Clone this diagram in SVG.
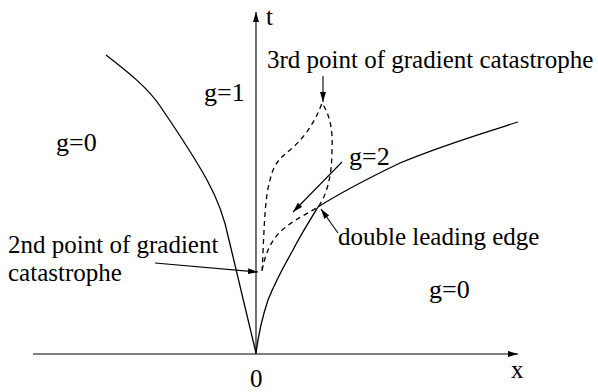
<svg xmlns="http://www.w3.org/2000/svg" width="598" height="392" viewBox="0 0 598 392">
<defs>
<marker id="ah" viewBox="0 0 10 6" refX="10" refY="3" markerWidth="10" markerHeight="6" markerUnits="userSpaceOnUse" orient="auto">
<path d="M0,0 L10,3 L0,6 Z" fill="#000"/>
</marker>
</defs>
<style>
.t{font-family:'Liberation Serif','DejaVu Serif',serif;font-size:25px;fill:#000}
.g{font-size:26px}
.c{fill:none;stroke:#000;stroke-width:1.3}
.d{fill:none;stroke:#000;stroke-width:1.3;stroke-dasharray:5,4}
.a{fill:none;stroke:#000;stroke-width:1.1;marker-end:url(#ah)}
</style>
<rect width="598" height="392" fill="#fff"/>
<g id="axes">
<line class="a" x1="33" y1="354" x2="518" y2="354"/>
<line class="a" x1="256" y1="354" x2="256" y2="12"/>
<text class="t" x="266" y="25">t</text>
<text class="t" x="511" y="378">x</text>
<text class="t" x="250" y="387" font-size="23">0</text>
</g>
<g id="curves">
<path id="left-edge" class="c" d="M106,55 C128,72 148,88 160,106 C175,128 195,158 207,180 C217,198 224,215 229,240 L256,353"/>
<path id="right-edge" class="c" d="M256,353 C259,330 262,318 268,300 C276,280 285,264 293,250 C300,236 310,220 318,207 C345,190 375,175 400,163 C440,146 480,134 518,122"/>
<path id="dashed-loop" class="d" d="M262,271 C264,240 264,200 270,180 C274,163 280,158 290,150 C302,140 314,125 322,103 C330,115 333,130 332,150 C332,175 327,195 318,207 C305,215 290,222 280,232 C270,242 265,255 262,271"/>
</g>
<g id="labels">
<text class="t g" x="204" y="101">g=1</text>
<text class="t g" x="56" y="151">g=0</text>
<text class="t g" x="349" y="165">g=2</text>
<text class="t g" x="429" y="298">g=0</text>
<text class="t" x="267" y="68">3rd point of gradient catastrophe</text>
<text class="t" x="338" y="245">double leading edge</text>
<text class="t" x="8" y="253">2nd point of gradient</text>
<text class="t" x="8" y="281">catastrophe</text>
</g>
<g id="connectors">
<line class="a" x1="323" y1="76" x2="323" y2="102"/>
<line class="a" x1="155" y1="263" x2="258" y2="272"/>
<line class="a" x1="342" y1="162" x2="293" y2="212"/>
<line class="a" x1="338" y1="233" x2="321" y2="209"/>
</g>
</svg>
